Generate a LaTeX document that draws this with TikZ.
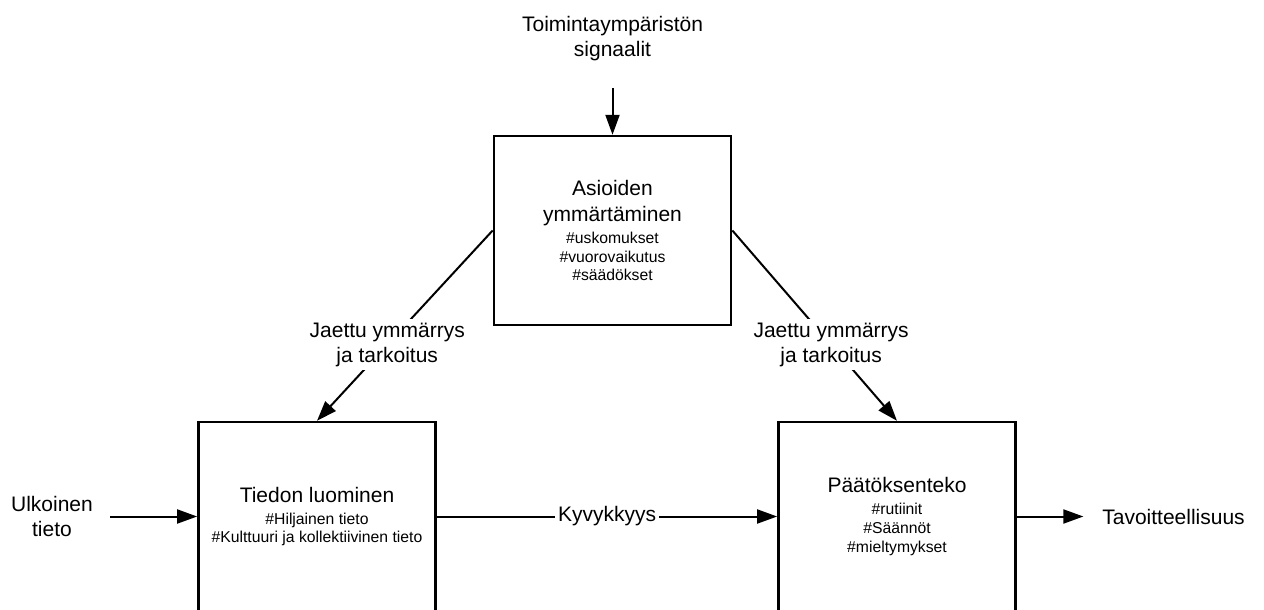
\documentclass[tikz,border=0pt]{standalone}
\usepackage{fontspec}
\setmainfont{Liberation Sans}
\usetikzlibrary{arrows.meta}

\newcommand{\otsikko}[1]{{\fontsize{15.75}{19}\selectfont #1}}

\begin{document}
\begin{tikzpicture}[x=0.75pt,y=-0.75pt,
  laatikko/.style={draw,line width=1.8pt,minimum width=178pt,minimum height=141.75pt,
    align=center,inner sep=0pt,font=\fontsize{11.8}{14}\selectfont},
  nuoli/.style={line width=1.5pt,-{Triangle[length=15pt,width=10.5pt]}},
  teksti/.style={align=center,inner sep=3pt,font=\fontsize{15.75}{19}\selectfont},
  selite/.style={teksti,fill=white,inner sep=2.5pt}]
\clip (0,0) rectangle (1264,610);

% Asioiden ymmartaminen
\node[laatikko] (asioiden) at (612.5,230.5)
  {\otsikko{Asioiden}\\[5.5pt]\otsikko{ymmärtäminen}\\[2.5pt]\#uskomukset\\\#vuorovaikutus\\\#säädökset};

% Tiedon luominen
\node[laatikko] (tieto) at (317,516.5)
  {\otsikko{Tiedon luominen}\\[2.5pt]\#Hiljainen tieto\\\#Kulttuuri ja kollektiivinen tieto};

% Paatoksenteko
\node[laatikko] (paatos) at (897,516.5)
  {\otsikko{Päätöksenteko}\\[2.5pt]\#rutiinit\\\#Säännöt\\\#mieltymykset};

% signaalit
\node[teksti] (signaalit) at (612.5,38.5) {Toimintaympäristön\\signaalit};
\draw[nuoli,shorten <=17pt] (signaalit) -- (asioiden);

% ulkoinen tieto
\node[teksti] (ulkoinen) at (52,516.5) {Ulkoinen\\tieto};
\draw[nuoli,shorten <=10pt] (ulkoinen) -- (tieto);

% tavoitteellisuus
\node[teksti] (tavoite) at (1173.5,516.5) {Tavoitteellisuus};
\draw[nuoli,shorten >=11pt] (paatos) -- (tavoite);

% jaettu ymmarrys
\draw[nuoli] (asioiden.west) -- node[selite,pos=0.6] {Jaettu ymmärrys\\ja tarkoitus} (tieto.north);
\draw[nuoli] (asioiden.east) -- node[selite,pos=0.6] {Jaettu ymmärrys\\ja tarkoitus} (paatos.north);

% kyvykkyys
\draw[nuoli] (tieto) -- node[selite] {Kyvykkyys} (paatos);

\end{tikzpicture}
\end{document}
